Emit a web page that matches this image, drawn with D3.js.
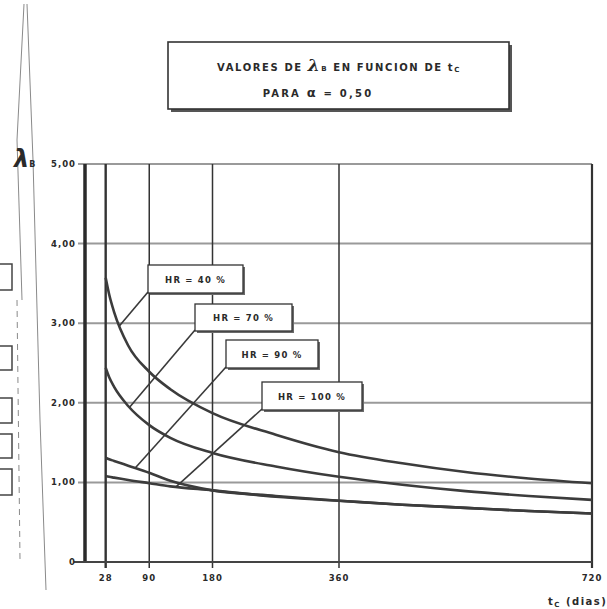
<!DOCTYPE html>
<html>
    <head>
        <meta charset="utf-8">
        <style>
            body { margin: 0; background: #fff; }
            svg { display: block; }
            text { font-family: "DejaVu Sans", Arial, sans-serif; font-weight: bold; fill: #2a2a2a; }
            .grid line { stroke: #9a9a9a; stroke-width: 2; }
            .curve { fill: none; stroke: #3c3c3c; stroke-width: 2.6; }
            .leader { stroke: #3a3a3a; stroke-width: 1.6; }
            .scan { stroke: #8a8a8a; stroke-width: 1; fill: none; }
        </style>
        <script src="https://cdn.jsdelivr.net/npm/d3@7"></script>
    </head>
    <body>
        <div id="canvas"></div>
        <script>

            var canvas_w = 607;
            var canvas_h = 609;

            // edad del hormigon t_c (dias)
            var t_dias = [28, 33, 40, 60, 90, 120, 180, 270, 360, 450, 540, 630, 720];

            // lambda_B para cada humedad relativa
            var hr40  = [3.57, 3.36, 3.14, 2.72, 2.39, 2.17, 1.87, 1.60, 1.38, 1.24, 1.13, 1.05, 0.99];
            var hr70  = [2.44, 2.32, 2.20, 1.96, 1.72, 1.56, 1.37, 1.20, 1.07, 0.97, 0.89, 0.83, 0.78];
            var hr90  = [1.31, 1.29, 1.27, 1.21, 1.12, 1.02, 0.90, 0.83, 0.77, 0.72, 0.68, 0.64, 0.61];
            var hr100 = [1.08, 1.07, 1.06, 1.03, 0.99, 0.95, 0.90, 0.82, 0.77, 0.72, 0.68, 0.64, 0.61];

            var series_names = ["HR = 40 %", "HR = 70 %", "HR = 90 %", "HR = 100 %"];
            var series_vals  = [hr40, hr70, hr90, hr100];
            var leader_t     = [48, 62, 70, 128];   // where each label points on its curve

            var x_ticks = [28, 90, 180, 360, 720];
            var x_tick_labels = ["28", "90", "180", "360", "720"];
            var y_ticks = [0, 1, 2, 3, 4, 5];
            var y_tick_labels = ["0", "1,00", "2,00", "3,00", "4,00", "5,00"];

            // label boxes (layout only)
            var boxes = [
                {x: 148, y: 265, w: 95,  h: 28},
                {x: 195, y: 304, w: 97,  h: 27},
                {x: 226, y: 340, w: 92,  h: 28},
                {x: 262, y: 382, w: 100, h: 28}
            ];

            var svg = d3.select("#canvas").append("svg")
                        .attr("width", canvas_w).attr("height", canvas_h);

            var x = d3.scaleLinear().domain([0, 720]).range([86, 592]);
            var y = d3.scaleLinear().domain([0, 5]).range([562, 164]);

            // ---- scan leftovers on the left margin
            var scan = svg.append("g");
            scan.append("path").attr("class", "scan").attr("d", "M24,4 L17,140 L22,300");
            scan.append("path").attr("class", "scan").attr("d", "M27,4 L33,160 L40,420 L46,590");
            scan.append("path").attr("class", "scan").attr("stroke-dasharray", "6,5").attr("d", "M17,300 L20,560");
            [[264, 290], [346, 370], [398, 423], [434, 458], [469, 495]].forEach(function(b) {
                scan.append("path").attr("d", "M0," + b[0] + " L12," + b[0] + " L12," + b[1] + " L0," + b[1])
                    .attr("fill", "none").attr("stroke", "#444").attr("stroke-width", 1.5);
            });

            // ---- grid
            var grid = svg.append("g").attr("class", "grid");
            grid.selectAll("line.h").data([1, 2, 3, 4]).enter().append("line")
                .attr("x1", x(0) - 8).attr("x2", x(720))
                .attr("y1", function(d) { return y(d); }).attr("y2", function(d) { return y(d); });
            grid.append("line").attr("x1", x(0)).attr("x2", x(720)).attr("y1", y(5)).attr("y2", y(5));
            grid.append("line").attr("x1", x(0) - 8).attr("x2", x(0)).attr("y1", y(5)).attr("y2", y(5));

            // verticals at the tick days
            svg.selectAll("line.v").data(x_ticks).enter().append("line")
                .attr("x1", function(d) { return x(d); }).attr("x2", function(d) { return x(d); })
                .attr("y1", y(5)).attr("y2", y(0) + 6)
                .attr("stroke", "#333")
                .attr("stroke-width", function(d) { return d == 28 ? 2.4 : (d == 720 ? 2.2 : 1.5); });

            // frame: thick left axis and base line
            svg.append("line").attr("x1", x(0) - 1).attr("x2", x(0) - 1).attr("y1", y(5)).attr("y2", y(0))
                .attr("stroke", "#2a2a2a").attr("stroke-width", 3.5);
            svg.append("line").attr("x1", x(0) - 12).attr("x2", x(720)).attr("y1", y(0)).attr("y2", y(0))
                .attr("stroke", "#444").attr("stroke-width", 2);

            // ---- tick labels
            svg.selectAll("text.ylab").data(y_ticks).enter().append("text")
                .attr("x", 76).attr("y", function(d) { return y(d) + 3; })
                .attr("text-anchor", "end").attr("font-size", 8.5).attr("letter-spacing", 1)
                .text(function(d, i) { return y_tick_labels[i]; });

            svg.selectAll("text.xlab").data(x_ticks).enter().append("text")
                .attr("x", function(d) { return x(d); }).attr("y", 581)
                .attr("text-anchor", "middle").attr("font-size", 8.5).attr("letter-spacing", 1)
                .text(function(d, i) { return x_tick_labels[i]; });

            // axis titles
            var xt = svg.append("text").attr("x", 548).attr("y", 605).attr("font-size", 10).attr("letter-spacing", 1.5);
            xt.append("tspan").text("t");
            xt.append("tspan").attr("font-size", 7).attr("dy", 2).text("C");
            xt.append("tspan").attr("dy", -2).text(" (dias)");

            var yt = svg.append("text").attr("x", 14).attr("y", 167).attr("font-size", 24)
                        .attr("font-family", "DejaVu Serif").attr("font-style", "italic");
            yt.append("tspan").text("λ");
            yt.append("tspan").attr("font-size", 8).attr("font-family", "DejaVu Sans").attr("font-style", "normal").text("B");

            // ---- curves
            var line = d3.line()
                .x(function(d) { return x(d[0]); })
                .y(function(d) { return y(d[1]); })
                .curve(d3.curveMonotoneX);

            series_vals.forEach(function(vals) {
                svg.append("path").attr("class", "curve")
                    .attr("d", line(t_dias.map(function(t, i) { return [t, vals[i]]; })));
            });

            // ---- labels with leader lines
            series_vals.forEach(function(vals, i) {
                var b = boxes[i];
                var lt = leader_t[i];
                var ly = d3.scaleLinear().domain(t_dias).range(vals)(lt);
                svg.append("line").attr("class", "leader")
                    .attr("x1", b.x).attr("y1", b.y + b.h - 1)
                    .attr("x2", x(lt)).attr("y2", y(ly));
                // shadow
                svg.append("rect").attr("x", b.x + 2).attr("y", b.y + 2).attr("width", b.w).attr("height", b.h)
                    .attr("fill", "#6a6a6a");
                svg.append("rect").attr("x", b.x).attr("y", b.y).attr("width", b.w).attr("height", b.h)
                    .attr("fill", "#fff").attr("stroke", "#333").attr("stroke-width", 1.3);
                svg.append("text").attr("x", b.x + b.w / 2).attr("y", b.y + b.h / 2 + 3.5)
                    .attr("text-anchor", "middle").attr("font-size", 8.5).attr("letter-spacing", 1.2)
                    .text(series_names[i]);
            });

            // ---- title box
            svg.append("rect").attr("x", 171).attr("y", 45).attr("width", 341).attr("height", 67).attr("fill", "#555");
            svg.append("rect").attr("x", 168).attr("y", 42).attr("width", 341).attr("height", 67)
                .attr("fill", "#fff").attr("stroke", "#333").attr("stroke-width", 1.6);

            var t1 = svg.append("text").attr("x", 339).attr("y", 71).attr("text-anchor", "middle")
                        .attr("font-size", 10).attr("letter-spacing", 1.6);
            t1.append("tspan").text("VALORES DE ");
            t1.append("tspan").attr("font-size", 17).attr("font-family", "DejaVu Serif").attr("font-style", "italic").text("λ");
            t1.append("tspan").attr("font-size", 7).text("B");
            t1.append("tspan").text("  EN FUNCION DE  t");
            t1.append("tspan").attr("font-size", 7).attr("dy", 1).text("C");

            var t2 = svg.append("text").attr("x", 318).attr("y", 97).attr("text-anchor", "middle")
                        .attr("font-size", 10).attr("letter-spacing", 2.2);
            t2.append("tspan").text("PARA ");
            t2.append("tspan").attr("font-size", 13).text("α");
            t2.append("tspan").text(" = 0,50");

        </script>
    </body>
</html>
